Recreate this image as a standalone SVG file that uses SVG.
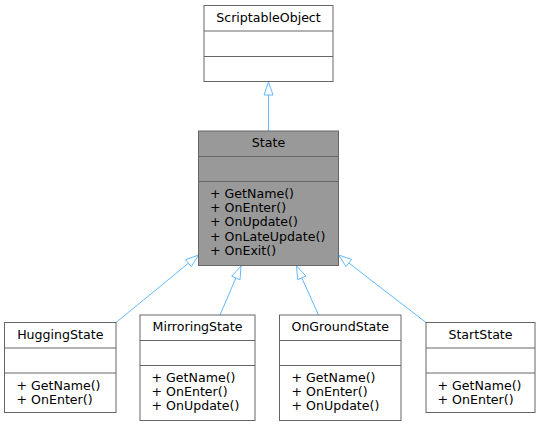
<svg xmlns="http://www.w3.org/2000/svg" width="541" height="427" viewBox="0 0 541 427">
<style>
text{font-family:"DejaVu Sans","Liberation Sans",sans-serif;font-size:12.6px;fill:#000}
.t{text-anchor:middle}
.box{fill:#fff;stroke:#666;stroke-width:1}
.focus{fill:#999;stroke:#666;stroke-width:1}
.div{stroke:#666;stroke-width:1}
.edge{stroke:#63b8ff;stroke-width:1;fill:none}
.head{stroke:#63b8ff;stroke-width:1;fill:#fff}
</style>
<rect width="541" height="427" fill="#fff"/>
<g id="connectors">
<line class="edge" x1="268.5" y1="131" x2="268.5" y2="95"/>
<polygon class="head" points="268.5,82 264,95 273,95"/>
<line class="edge" x1="116" y1="322.5" x2="188.44" y2="263.23"/>
<polygon class="head" points="198.5,255 191.29,266.71 185.59,259.75"/>
<line class="edge" x1="220" y1="315" x2="235.88" y2="277.95"/>
<polygon class="head" points="241,266 240.02,279.72 231.74,276.18"/>
<line class="edge" x1="318.5" y1="315" x2="301.82" y2="277.86"/>
<polygon class="head" points="296.5,266 305.93,276.02 297.71,279.7"/>
<line class="edge" x1="426" y1="322.5" x2="348.79" y2="262.94"/>
<polygon class="head" points="338.5,255 351.54,259.38 346.04,266.5"/>
</g>
<g id="ScriptableObject">
<rect class="box" x="204" y="5.5" width="129" height="76"/>
<line class="div" x1="204" y1="31" x2="333" y2="31"/>
<line class="div" x1="204" y1="56.5" x2="333" y2="56.5"/>
<text class="t" x="268.5" y="21.5">ScriptableObject</text>
</g>
<g id="State">
<rect class="focus" x="198.5" y="131" width="140" height="134.5"/>
<line class="div" x1="198.5" y1="156.5" x2="338.5" y2="156.5"/>
<line class="div" x1="198.5" y1="181.5" x2="338.5" y2="181.5"/>
<text class="t" x="268.5" y="147">State</text>
<text x="210" y="198">+ GetName()</text>
<text x="210" y="212.2">+ OnEnter()</text>
<text x="210" y="226.4">+ OnUpdate()</text>
<text x="210" y="240.6">+ OnLateUpdate()</text>
<text x="210" y="254.8">+ OnExit()</text>
</g>
<g id="HuggingState">
<rect class="box" x="4.5" y="322.5" width="111.5" height="90"/>
<line class="div" x1="4.5" y1="348" x2="116" y2="348"/>
<line class="div" x1="4.5" y1="373" x2="116" y2="373"/>
<text class="t" x="60.25" y="338.5">HuggingState</text>
<text x="16.5" y="389.5">+ GetName()</text>
<text x="16.5" y="403.7">+ OnEnter()</text>
</g>
<g id="MirroringState">
<rect class="box" x="140" y="315" width="115" height="105.5"/>
<line class="div" x1="140" y1="340.5" x2="255" y2="340.5"/>
<line class="div" x1="140" y1="365.5" x2="255" y2="365.5"/>
<text class="t" x="197.5" y="331">MirroringState</text>
<text x="151.5" y="382">+ GetName()</text>
<text x="151.5" y="396.2">+ OnEnter()</text>
<text x="151.5" y="410.4">+ OnUpdate()</text>
</g>
<g id="OnGroundState">
<rect class="box" x="279.5" y="315" width="121.5" height="105.5"/>
<line class="div" x1="279.5" y1="340.5" x2="401" y2="340.5"/>
<line class="div" x1="279.5" y1="365.5" x2="401" y2="365.5"/>
<text class="t" x="340.25" y="331">OnGroundState</text>
<text x="291.5" y="382">+ GetName()</text>
<text x="291.5" y="396.2">+ OnEnter()</text>
<text x="291.5" y="410.4">+ OnUpdate()</text>
</g>
<g id="StartState">
<rect class="box" x="426" y="322.5" width="109" height="90"/>
<line class="div" x1="426" y1="348" x2="535" y2="348"/>
<line class="div" x1="426" y1="373" x2="535" y2="373"/>
<text class="t" x="480.5" y="338.5">StartState</text>
<text x="437.5" y="389.5">+ GetName()</text>
<text x="437.5" y="403.7">+ OnEnter()</text>
</g>
</svg>
